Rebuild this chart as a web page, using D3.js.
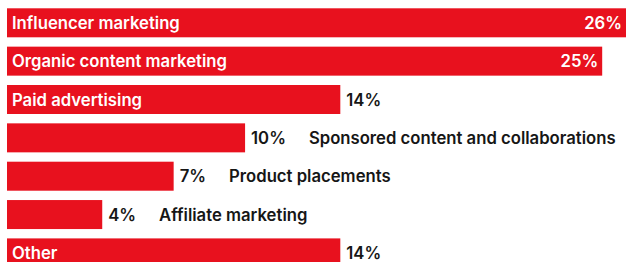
<!DOCTYPE html>
<html>
<head>
<meta charset="utf-8">
<script src="https://cdn.jsdelivr.net/npm/d3@7"></script>
<style>
    body { margin: 0; background: #fff; }
    svg text { font-family: Inter, "Noto Sans", sans-serif; font-weight: 600; font-size: 16.7px; }
</style>
</head>
<body>
<div id="chart-container"></div>
<script>
var categories = [
    "Influencer marketing",
    "Organic content marketing",
    "Paid advertising",
    "Sponsored content and collaborations",
    "Product placements",
    "Affiliate marketing",
    "Other"
];

var values = [26, 25, 14, 10, 7, 4, 14];

var valueLabels = ["26%", "25%", "14%", "10%", "7%", "4%", "14%"];

var settings = {
    w: 628,
    h: 262,
    left: 7,
    right: 626,
    top: 8.3,
    step: 38.35,
    barH: 29,
    red: "#e8111e",
    ink: "#161616"
};

var data = categories.map(function(name, i) {
    return {name: name, value: values[i], label: valueLabels[i]};
});

var svg = d3.select("#chart-container").append("svg")
    .attr("width", settings.w)
    .attr("height", settings.h);

var xScale = d3.scaleLinear()
    .domain([0, d3.max(values)])
    .range([settings.left, settings.right]);

var yScale = d3.scaleBand()
    .domain(categories)
    .range([settings.top, settings.top + settings.step * (categories.length - 1) + settings.barH])
    .paddingInner(1 - settings.barH / settings.step)
    .paddingOuter(0);

var rows = svg.selectAll("g.row")
    .data(data)
    .enter()
    .append("g")
    .attr("class", "row")
    .attr("transform", function(d) { return "translate(0," + yScale(d.name) + ")"; });

rows.append("rect")
    .attr("x", xScale(0))
    .attr("y", 0)
    .attr("width", function(d) { return xScale(d.value) - xScale(0); })
    .attr("height", yScale.bandwidth())
    .attr("fill", settings.red);

var midY = yScale.bandwidth() / 2;

rows.each(function(d) {
    var g = d3.select(this);
    var barEnd = xScale(d.value);
    var barW = barEnd - xScale(0);

    var name = g.append("text")
        .attr("x", xScale(0) + 5)
        .attr("y", midY)
        .attr("dy", "0.36em")
        .text(d.name);
    var nameW = name.node().getComputedTextLength();
    var nameInside = nameW + 12 < barW;

    // wide bars keep the value inside, at the right end
    var valueInside = d.value >= 20;
    var val = g.append("text")
        .attr("y", midY)
        .attr("dy", "0.36em")
        .text(d.label);

    if (valueInside) {
        val.attr("x", barEnd - 4).attr("text-anchor", "end").attr("fill", "#fff");
    } else {
        val.attr("x", barEnd + 6).attr("fill", settings.ink);
    }

    if (nameInside) {
        name.attr("fill", "#fff");
    } else {
        var valW = val.node().getComputedTextLength();
        name.attr("x", barEnd + 6 + valW + 23).attr("fill", settings.ink);
    }
});
</script>
</body>
</html>
